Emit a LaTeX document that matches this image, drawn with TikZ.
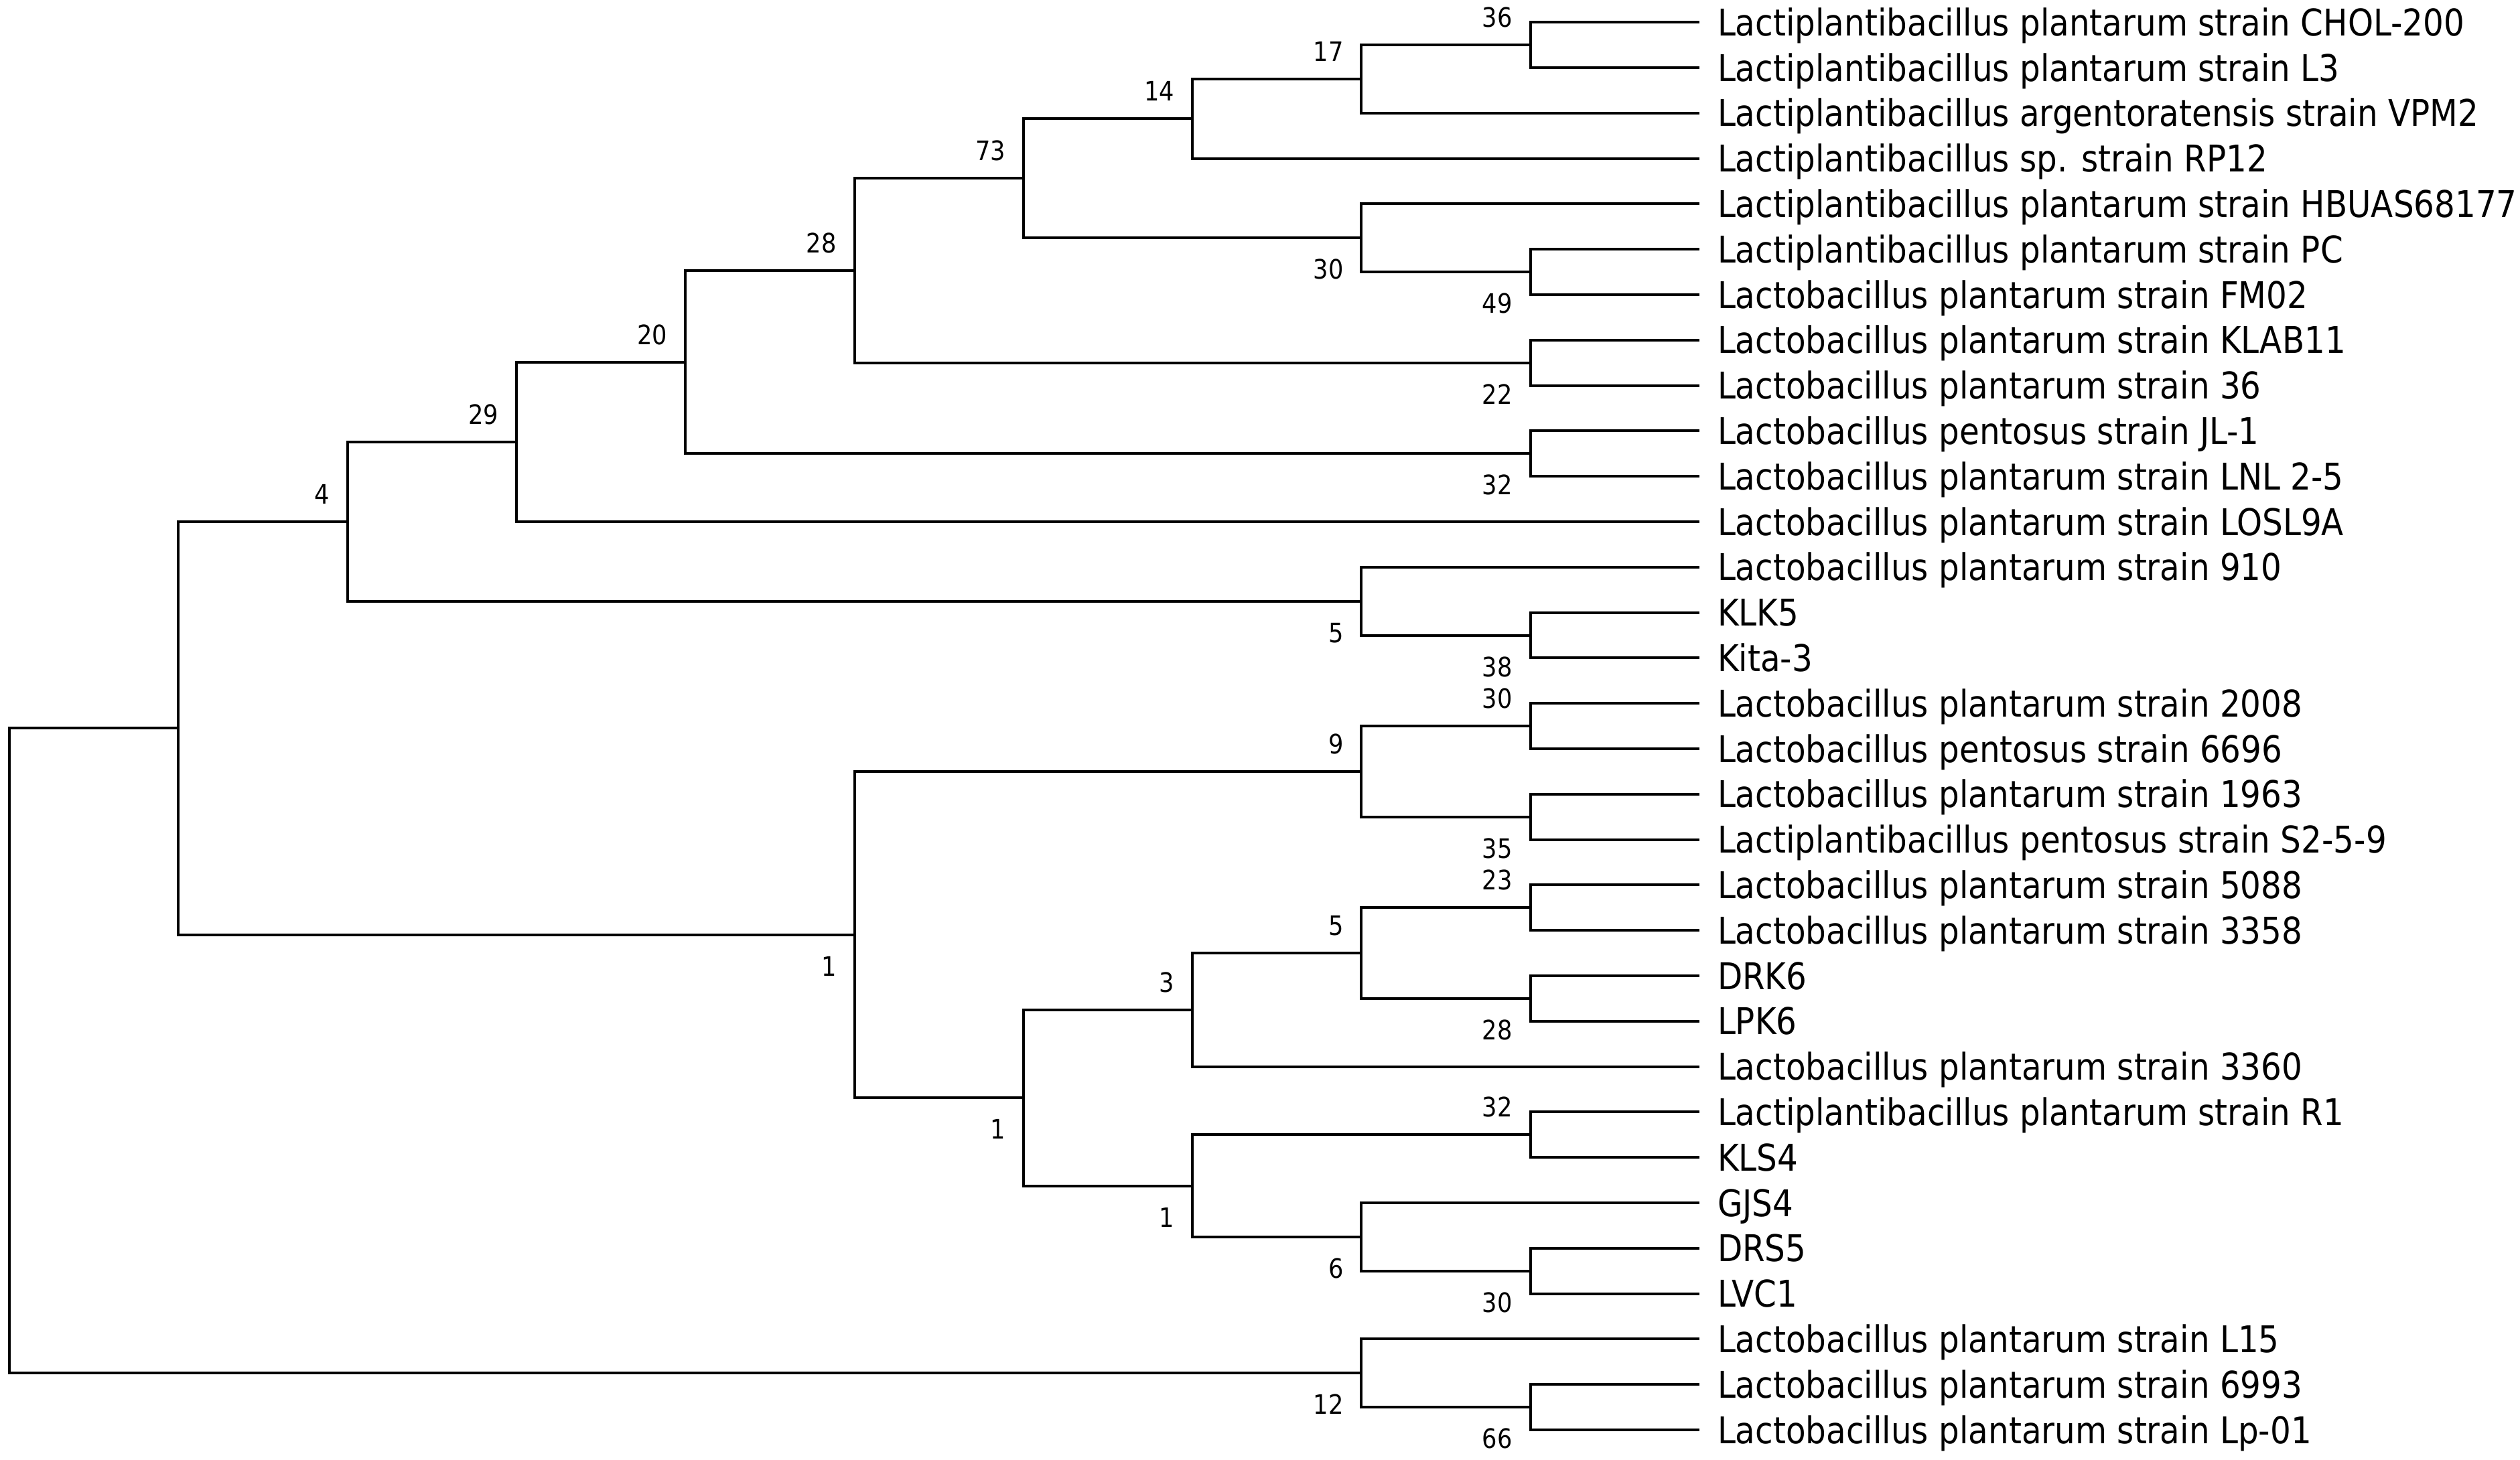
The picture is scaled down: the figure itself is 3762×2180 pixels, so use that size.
\documentclass[tikz,border=0pt]{standalone}
\usepackage{fontspec}
\newfontfamily\labfont[FakeStretch=0.88]{DejaVu Sans}
\newcommand\treept[3]{\coordinate (#1) at ({14+252.3*#2},{33.3+67.8*#3});}
\newcommand\leafat[3]{\node[leaf] (#1) at ({14+252.3*10},{33.3+67.8*#2}) {#3};}
\begin{document}
\begin{tikzpicture}[x=0.2pt,y=-0.2pt,line width=0.8pt,
  leaf/.style={font=\labfont\fontsize{11pt}{13pt}\selectfont,anchor=west,inner xsep=5pt,inner ysep=0pt,text height=8pt,text depth=0pt},
  bs/.style={font=\labfont\fontsize{8pt}{10pt}\selectfont,anchor=base east,inner sep=0pt,xshift=-5pt},
  bsup/.style={bs,yshift=5.3pt},
  bsdn/.style={bs,yshift=-12.3pt}]
\useasboundingbox (0,0) rectangle (3762,2180);
% leaves
\leafat{L0}{0}{Lactiplantibacillus plantarum strain CHOL-200}
\leafat{L1}{1}{Lactiplantibacillus plantarum strain L3}
\leafat{L2}{2}{Lactiplantibacillus argentoratensis strain VPM2}
\leafat{L3}{3}{Lactiplantibacillus sp. strain RP12}
\leafat{L4}{4}{Lactiplantibacillus plantarum strain HBUAS68177}
\leafat{L5}{5}{Lactiplantibacillus plantarum strain PC}
\leafat{L6}{6}{Lactobacillus plantarum strain FM02}
\leafat{L7}{7}{Lactobacillus plantarum strain KLAB11}
\leafat{L8}{8}{Lactobacillus plantarum strain 36}
\leafat{L9}{9}{Lactobacillus pentosus strain JL-1}
\leafat{L10}{10}{Lactobacillus plantarum strain LNL 2-5}
\leafat{L11}{11}{Lactobacillus plantarum strain LOSL9A}
\leafat{L12}{12}{Lactobacillus plantarum strain 910}
\leafat{L13}{13}{KLK5}
\leafat{L14}{14}{Kita-3}
\leafat{L15}{15}{Lactobacillus plantarum strain 2008}
\leafat{L16}{16}{Lactobacillus pentosus strain 6696}
\leafat{L17}{17}{Lactobacillus plantarum strain 1963}
\leafat{L18}{18}{Lactiplantibacillus pentosus strain S2-5-9}
\leafat{L19}{19}{Lactobacillus plantarum strain 5088}
\leafat{L20}{20}{Lactobacillus plantarum strain 3358}
\leafat{L21}{21}{DRK6}
\leafat{L22}{22}{LPK6}
\leafat{L23}{23}{Lactobacillus plantarum strain 3360}
\leafat{L24}{24}{Lactiplantibacillus plantarum strain R1}
\leafat{L25}{25}{KLS4}
\leafat{L26}{26}{GJS4}
\leafat{L27}{27}{DRS5}
\leafat{L28}{28}{LVC1}
\leafat{L29}{29}{Lactobacillus plantarum strain L15}
\leafat{L30}{30}{Lactobacillus plantarum strain 6993}
\leafat{L31}{31}{Lactobacillus plantarum strain Lp-01}
% internal nodes
\treept{n36}{9}{0.5}
\treept{n17}{8}{1.25}
\treept{n14}{7}{2.125}
\treept{n49}{9}{5.5}
\treept{n30}{8}{4.75}
\treept{n73}{6}{3.4375}
\treept{n22}{9}{7.5}
\treept{n28}{5}{5.46875}
\treept{n32a}{9}{9.5}
\treept{n20}{4}{7.484375}
\treept{n29}{3}{9.2421875}
\treept{n38}{9}{13.5}
\treept{n5a}{8}{12.75}
\treept{n4}{2}{10.99609375}
\treept{n30b}{9}{15.5}
\treept{n35}{9}{17.5}
\treept{n9}{8}{16.5}
\treept{n23}{9}{19.5}
\treept{n28b}{9}{21.5}
\treept{n5b}{8}{20.5}
\treept{n3}{7}{21.75}
\treept{n32b}{9}{24.5}
\treept{n30c}{9}{27.5}
\treept{n6}{8}{26.75}
\treept{n1c}{7}{25.625}
\treept{n1b}{6}{23.6875}
\treept{n1a}{5}{20.09375}
\treept{nA}{1}{15.544921875}
\treept{n66}{9}{30.5}
\treept{n12}{8}{29.75}
\treept{root}{0}{22.6474609375}
% branches
\foreach \p/\c in {root/nA, root/n12, nA/n4, nA/n1a, n4/n29, n4/n5a,
  n29/n20, n29/L11.west, n20/n28, n20/n32a, n28/n73, n28/n22,
  n73/n14, n73/n30, n14/n17, n14/L3.west, n17/n36, n17/L2.west,
  n36/L0.west, n36/L1.west, n30/L4.west, n30/n49, n49/L5.west, n49/L6.west,
  n22/L7.west, n22/L8.west, n32a/L9.west, n32a/L10.west,
  n5a/L12.west, n5a/n38, n38/L13.west, n38/L14.west,
  n1a/n9, n1a/n1b, n9/n30b, n9/n35, n30b/L15.west, n30b/L16.west,
  n35/L17.west, n35/L18.west, n1b/n3, n1b/n1c, n3/n5b, n3/L23.west,
  n5b/n23, n5b/n28b, n23/L19.west, n23/L20.west, n28b/L21.west, n28b/L22.west,
  n1c/n32b, n1c/n6, n32b/L24.west, n32b/L25.west, n6/L26.west, n6/n30c,
  n30c/L27.west, n30c/L28.west, n12/L29.west, n12/n66, n66/L30.west, n66/L31.west}
  \draw (\p) |- (\c);
% bootstrap values
\foreach \n/\t in {n4/4, n29/29, n20/20, n28/28, n73/73, n14/14, n17/17, n36/36,
  n9/9, n30b/30, n5b/5, n23/23, n3/3, n32b/32}
  \node[bsup] (b\n) at (\n) {\t};
\foreach \n/\t in {n5a/5, n38/38, n30/30, n49/49, n22/22, n32a/32, n1a/1, n35/35,
  n28b/28, n1b/1, n1c/1, n6/6, n30c/30, n12/12, n66/66}
  \node[bsdn] (b\n) at (\n) {\t};
\end{tikzpicture}
\end{document}
